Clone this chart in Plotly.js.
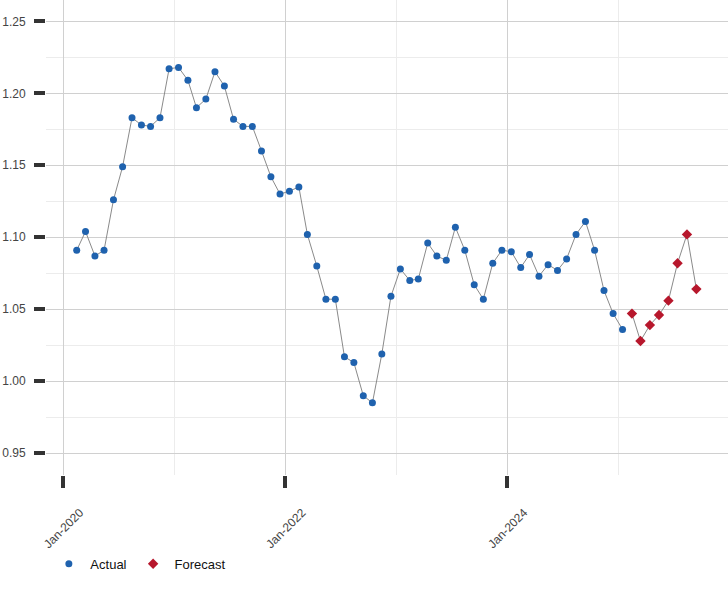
<!DOCTYPE html>
<html>
<head>
<meta charset="utf-8">
<script src="https://cdn.plot.ly/plotly-3.0.1.min.js"></script>
<style>html,body{margin:0;padding:0;background:#fff}#chart{width:728px;height:600px}</style>
</head>
<body>
<div id="chart"></div>
<script>
var actualDates = [
"2020-02-15","2020-03-15","2020-04-15","2020-05-15","2020-06-15","2020-07-15","2020-08-15","2020-09-15","2020-10-15","2020-11-15","2020-12-15",
"2021-01-15","2021-02-15","2021-03-15","2021-04-15","2021-05-15","2021-06-15","2021-07-15","2021-08-15","2021-09-15","2021-10-15","2021-11-15","2021-12-15",
"2022-01-15","2022-02-15","2022-03-15","2022-04-15","2022-05-15","2022-06-15","2022-07-15","2022-08-15","2022-09-15","2022-10-15","2022-11-15","2022-12-15",
"2023-01-15","2023-02-15","2023-03-15","2023-04-15","2023-05-15","2023-06-15","2023-07-15","2023-08-15","2023-09-15","2023-10-15","2023-11-15","2023-12-15",
"2024-01-15","2024-02-15","2024-03-15","2024-04-15","2024-05-15","2024-06-15","2024-07-15","2024-08-15","2024-09-15","2024-10-15","2024-11-15","2024-12-15",
"2025-01-15"
];
var actualValues = [
1.091,1.104,1.087,1.091,1.126,1.149,1.183,1.178,1.177,1.183,1.217,
1.218,1.209,1.190,1.196,1.215,1.205,1.182,1.177,1.177,1.160,1.142,1.130,
1.132,1.135,1.102,1.080,1.057,1.057,1.017,1.013,0.990,0.985,1.019,1.059,
1.078,1.070,1.071,1.096,1.087,1.084,1.107,1.091,1.067,1.057,1.082,1.091,
1.090,1.079,1.088,1.073,1.081,1.077,1.085,1.102,1.111,1.091,1.063,1.047,
1.036
];
var forecastDates = ["2025-02-15","2025-03-15","2025-04-15","2025-05-15","2025-06-15","2025-07-15","2025-08-15","2025-09-15"];
var forecastValues = [1.047,1.028,1.039,1.046,1.056,1.082,1.102,1.064];
var yTickValues = [0.95,1.00,1.05,1.10,1.15,1.20,1.25];
var xTickValues = ["2020-01-01","2022-01-01","2024-01-01"];
var xMinorTickValues = ["2021-01-01","2023-01-01","2025-01-01"];

var font = "Liberation Sans, Arial, sans-serif";
var lineStyle = {color:"#8a8a8a", width:1};
var traces = [
  {x:actualDates, y:actualValues, type:"scatter", mode:"lines", line:lineStyle, showlegend:false, hoverinfo:"skip"},
  {x:forecastDates, y:forecastValues, type:"scatter", mode:"lines", line:lineStyle, showlegend:false, hoverinfo:"skip"},
  {x:actualDates, y:actualValues, type:"scatter", mode:"markers", name:"Actual",
   marker:{symbol:"circle", size:7, color:"#1f62ae"}},
  {x:forecastDates, y:forecastValues, type:"scatter", mode:"markers", name:"Forecast",
   marker:{symbol:"diamond", size:8, color:"#b7172c"}}
];
var layout = {
  width:728, height:600,
  margin:{l:46, r:0, t:0, b:125, pad:0},
  paper_bgcolor:"#fff", plot_bgcolor:"#fff",
  font:{family:font, size:12, color:"#444"},
  xaxis:{
    type:"date",
    range:["2019-11-06","2025-12-28"],
    tickvals:xTickValues,
    tickformat:"%b-%Y",
    tickangle:-45,
    ticks:"outside", ticklen:12, tickwidth:4, tickcolor:"#333",
    ticklabelshift:17, ticklabelstandoff:13,
    showgrid:true, gridcolor:"#d0d0d0", gridwidth:1,
    minor:{tickvals:xMinorTickValues, showgrid:true, gridcolor:"#ececec", ticks:""},
    zeroline:false, showline:false,
    tickfont:{family:font, size:12, color:"#444"}
  },
  yaxis:{
    range:[0.9349, 1.2648],
    tickvals:yTickValues,
    tickformat:".2f",
    ticks:"outside", ticklen:11, tickwidth:4, tickcolor:"#333",
    showgrid:true, gridcolor:"#d0d0d0", gridwidth:1,
    minor:{dtick:0.025, tick0:0.925, showgrid:true, gridcolor:"#ececec", ticks:""},
    zeroline:false, showline:false,
    ticklabelstandoff:6,
    tickfont:{family:font, size:12, color:"#444"}
  },
  legend:{orientation:"h", x:0.002, xanchor:"left", y:-0.187, yanchor:"middle", itemwidth:33,
          font:{family:font, size:13, color:"#111"}, bgcolor:"rgba(0,0,0,0)"},
  showlegend:true
};
Plotly.newPlot("chart", traces, layout, {displayModeBar:false, staticPlot:true});
</script>
</body>
</html>
